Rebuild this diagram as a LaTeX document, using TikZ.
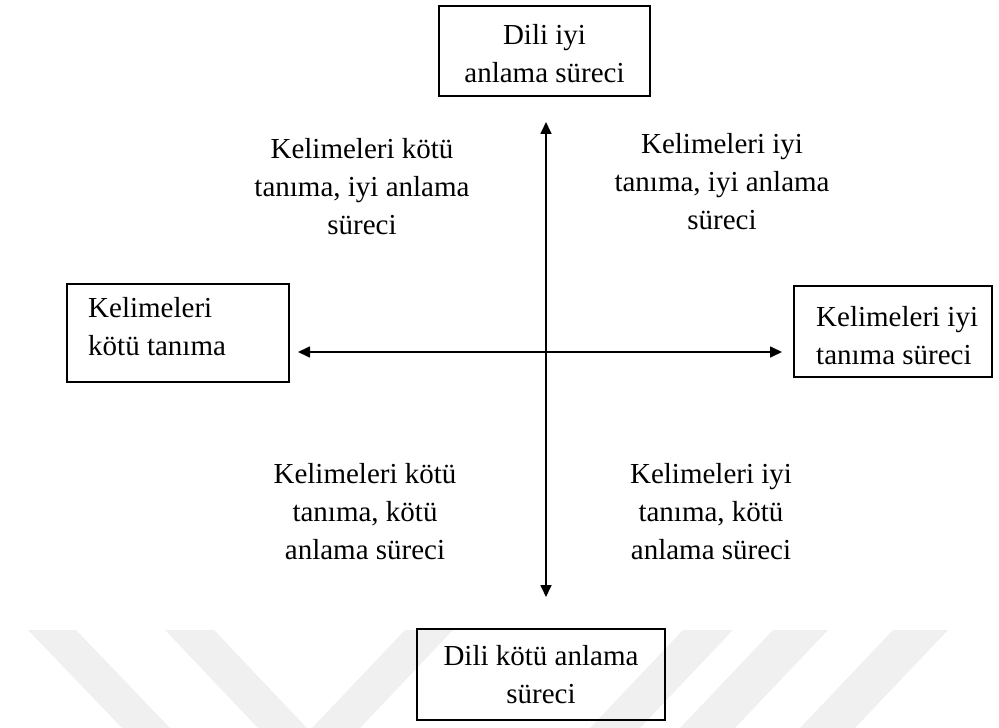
\documentclass[tikz,border=0pt]{standalone}
\usepackage{fontspec}
\setmainfont{Liberation Serif}
\usetikzlibrary{arrows.meta}
\begin{document}
\begin{tikzpicture}[x=1bp,y=-1bp,
  txt/.style={inner sep=0pt, font=\fontsize{29bp}{38bp}\selectfont},
  boxframe/.style={draw, line width=1.6bp, inner sep=0pt},
  axis/.style={line width=1.7bp, {Triangle[length=12bp,width=11bp]}-{Triangle[length=12bp,width=11bp]}},
  wmark/.style={fill=black!6, draw=none}]
\useasboundingbox (0,0) rectangle (999,728);
% faint watermark
\fill[wmark] (28,630) -- (76,630) -- (170,728) -- (122,728) -- cycle;
\fill[wmark] (165,630) -- (214,630) -- (307,728) -- (258,728) -- cycle;
\fill[wmark] (405,630) -- (453,630) -- (360,728) -- (312,728) -- cycle;
\fill[wmark] (683,630) -- (733,630) -- (640,728) -- (590,728) -- cycle;
\fill[wmark] (773,630) -- (828,630) -- (735,728) -- (680,728) -- cycle;
\fill[wmark] (893,630) -- (948,630) -- (855,728) -- (800,728) -- cycle;
% boxes
\node[boxframe, minimum width=211bp, minimum height=90bp] (top) at (544.5,51) {};
\node[txt, align=center, anchor=north] (toptxt) at (544.5,24) {Dili iyi\\anlama süreci};
\node[boxframe, minimum width=222bp, minimum height=98bp] (left) at (178,333) {};
\node[txt, align=left, anchor=north west] (lefttxt) at (88,297) {Kelimeleri\\kötü tanıma};
\node[boxframe, minimum width=198bp, minimum height=91bp] (right) at (893,331.5) {};
\node[txt, align=left, anchor=north west] (righttxt) at (816,306) {Kelimeleri iyi\\tanıma süreci};
\node[boxframe, minimum width=248bp, minimum height=91bp] (bottom) at (541,674.5) {};
\node[txt, align=center, anchor=north] (bottomtxt) at (541,645) {Dili kötü anlama\\süreci};
% quadrant labels
\node[txt, align=center, anchor=north] (ul) at (362,138) {Kelimeleri kötü\\tanıma, iyi anlama\\süreci};
\node[txt, align=center, anchor=north] (ur) at (722,133) {Kelimeleri iyi\\tanıma, iyi anlama\\süreci};
\node[txt, align=center, anchor=north] (ll) at (365,463) {Kelimeleri kötü\\tanıma, kötü\\anlama süreci};
\node[txt, align=center, anchor=north] (lr) at (711,463) {Kelimeleri iyi\\tanıma, kötü\\anlama süreci};
% axes
\coordinate (vtop) at (546,122);
\coordinate (vbot) at (546,597);
\coordinate (hleft) at (298,352);
\coordinate (hright) at (782,352);
\draw[axis] (vtop) -- (vbot);
\draw[axis] (hleft) -- (hright);
\end{tikzpicture}
\end{document}
